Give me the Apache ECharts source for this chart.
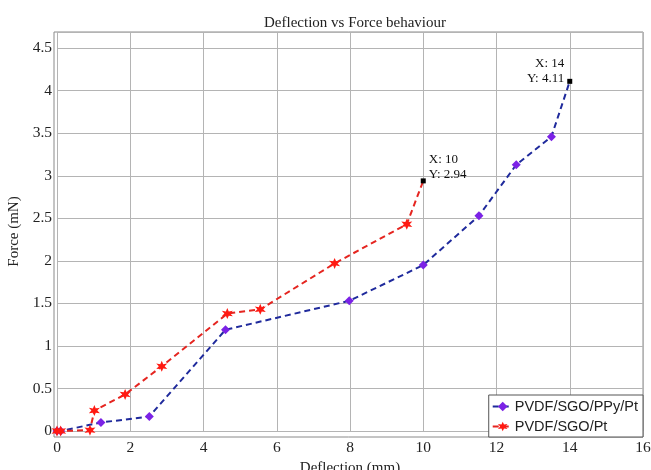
<!DOCTYPE html>
<html><head><meta charset="utf-8">
<script src="https://cdn.jsdelivr.net/npm/echarts@6/dist/echarts.min.js"></script>
<style>html,body{margin:0;padding:0;background:#fff}#c{width:651px;height:470px}</style>
</head><body><div id="c"></div>
<script>
const titleText = 'Deflection vs Force behaviour';
const xName = 'Deflection (mm)';
const yName = 'Force (mN)';
const seriesNames = ['PVDF/SGO/PPy/Pt', 'PVDF/SGO/Pt'];
const xTicks = [0, 2, 4, 6, 8, 10, 12, 14, 16];
const yTicks = [0, 0.5, 1, 1.5, 2, 2.5, 3, 3.5, 4, 4.5];

const ppyX = [0, 0.1, 1.2, 2.52, 4.6, 7.98, 10, 11.52, 12.54, 13.5, 14];
const ppyY = [0, 0, 0.1, 0.17, 1.19, 1.53, 1.95, 2.53, 3.13, 3.46, 4.11];
const ptX = [0, 0.1, 0.9, 1.02, 1.86, 2.86, 4.65, 5.55, 7.58, 9.55, 10];
const ptY = [0, 0, 0.01, 0.24, 0.43, 0.76, 1.38, 1.43, 1.97, 2.43, 2.94];

const star = 'path://M10 0 L12.3 6 L18.66 5 L14.6 10 L18.66 15 L12.3 14 L10 20 L7.7 14 L1.34 15 L5.4 10 L1.34 5 L7.7 6 Z';
const serif = '"Liberation Serif", "Times New Roman", serif';

function build(xs, ys, labelPos, labelOffset) {
  return xs.map((x, i) => {
    if (i < xs.length - 1) return [x, ys[i]];
    return {
      value: [x, ys[i]],
      symbol: 'rect', symbolSize: 5,
      itemStyle: { color: '#000' },
      label: {
        show: true, position: labelPos, offset: labelOffset,
        formatter: 'X: ' + x + '\nY: ' + ys[i],
        fontFamily: serif, fontSize: 13, color: '#111', lineHeight: 15
      }
    };
  });
}

const chart = echarts.init(document.getElementById('c'));
chart.setOption({
  animation: false,
  title: { text: titleText, left: 350, top: 11, textAlign: 'center',
    textStyle: { fontFamily: serif, fontSize: 15, fontWeight: 'normal', color: '#222' } },
  grid: [
    { left: 54, right: 8, top: 32, bottom: 33, show: true, borderColor: '#8a8a8a', borderWidth: 1, backgroundColor: '#fff', outerBoundsMode: 'none', containLabel: false },
    { left: 57, right: 8, top: 32, bottom: 39, outerBoundsMode: 'none', containLabel: false }
  ],
  xAxis: [
    { gridIndex: 0, type: 'value', show: false, min: 0, max: 1 },
    { gridIndex: 1, type: 'value', min: xTicks[0], max: xTicks[xTicks.length - 1], interval: 2,
      name: xName, nameLocation: 'middle', nameGap: 24,
      nameTextStyle: { fontFamily: serif, fontSize: 15, color: '#222' },
      axisLine: { show: false }, axisTick: { show: false },
      axisLabel: { fontFamily: serif, fontSize: 15.5, color: '#222', margin: 9 },
      splitLine: { show: true, lineStyle: { color: '#b4b4b4', width: 1 } } }
  ],
  yAxis: [
    { gridIndex: 0, type: 'value', show: false, min: 0, max: 1 },
    { gridIndex: 1, type: 'value', min: yTicks[0], max: 4.69, interval: 0.5,
      name: yName, nameLocation: 'middle', nameGap: 26,
      nameTextStyle: { fontFamily: serif, fontSize: 15, color: '#222' },
      axisLine: { show: false }, axisTick: { show: false },
      axisLabel: { fontFamily: serif, fontSize: 15.5, color: '#222', margin: 5,
        formatter: v => (yTicks.some(t => Math.abs(t - v) < 1e-6) ? String(v) : '') },
      splitLine: { show: true, lineStyle: { color: '#b4b4b4', width: 1 } } }
  ],
  legend: {
    orient: 'vertical', right: 8, bottom: 33,
    backgroundColor: '#fff', borderColor: '#555', borderWidth: 1,
    padding: [4, 5, 3, 3], itemGap: 5, itemWidth: 20, itemHeight: 12,
    textStyle: { fontFamily: '"Liberation Sans", Arial, sans-serif', fontSize: 14.5, color: '#222', padding: [0, 0, 0, -3] },
    data: seriesNames
  },
  series: [
    { name: seriesNames[0], type: 'line', xAxisIndex: 1, yAxisIndex: 1,
      data: build(ppyX, ppyY, 'left', [2, -10]),
      symbol: 'diamond', symbolSize: 9,
      itemStyle: { color: '#7b22e6' },
      lineStyle: { color: '#1f2a9c', width: 2, type: [6, 4] } },
    { name: seriesNames[1], type: 'line', xAxisIndex: 1, yAxisIndex: 1,
      data: build(ptX, ptY, 'right', [-2, -14]),
      symbol: star, symbolSize: 11,
      itemStyle: { color: '#ff1a12' },
      lineStyle: { color: '#e52520', width: 2, type: [6, 4] } }
  ]
});
</script></body></html>
